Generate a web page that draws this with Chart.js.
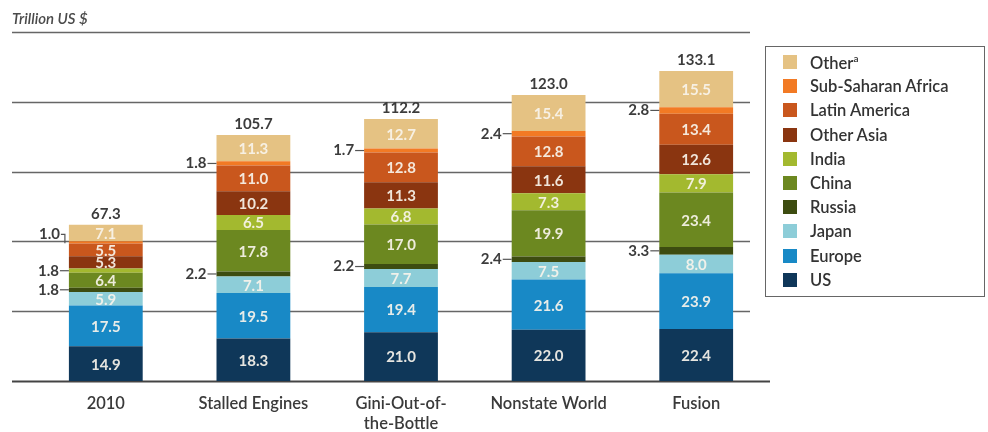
<!DOCTYPE html>
<html>
<head>
<meta charset="utf-8">
<script src="https://cdn.jsdelivr.net/npm/chart.js@4.4.1/dist/chart.umd.min.js"></script>
<style>
  body { margin: 0; background: #fff; }
  #caja { position: relative; width: 988px; height: 432px; }
  #leyenda {
    position: absolute; left: 765px; top: 46px; width: 220px; height: 251px;
    border: 1.5px solid #666; box-sizing: border-box;
    font-family: Lato, "Open Sans", sans-serif; font-size: 16.5px; font-weight: 600; color: #333;
    padding-top: 3px;
  }
  .item { display: flex; align-items: center; height: 24.2px; }
  .cuadro { width: 14px; height: 14px; margin-left: 17px; margin-right: 13px; }
  sup { font-size: 10px; }
</style>
</head>
<body>
<div id="caja">
  <canvas id="grafico" width="988" height="432"></canvas>
  <div id="leyenda"></div>
</div>
<script>
const escenarios = ['2010', 'Stalled Engines', ['Gini-Out-of-', 'the-Bottle'], 'Nonstate World', 'Fusion'];
const regiones = ['US', 'Europe', 'Japan', 'Russia', 'China', 'India', 'Other Asia', 'Latin America', 'Sub-Saharan Africa', 'Other'];
const colores = ['#0f3759', '#1889c6', '#8dcdd8', '#3d4c10', '#6c8820', '#a3b92f', '#8a3510', '#c9571d', '#f27a24', '#e5c283'];

const us = [14.9, 18.3, 21.0, 22.0, 22.4];
const europe = [17.5, 19.5, 19.4, 21.6, 23.9];
const japan = [5.9, 7.1, 7.7, 7.5, 8.0];
const russia = [1.8, 2.2, 2.2, 2.4, 3.3];
const china = [6.4, 17.8, 17.0, 19.9, 23.4];
const india = [1.8, 6.5, 6.8, 7.3, 7.9];
const otraAsia = [5.3, 10.2, 11.3, 11.6, 12.6];
const latinoamerica = [5.5, 11.0, 12.8, 12.8, 13.4];
const africa = [1.0, 1.8, 1.7, 2.4, 2.8];
const otros = [7.1, 11.3, 12.7, 15.4, 15.5];
const totales = [67.3, 105.7, 112.2, 123.0, 133.1];
const marcasY = [0, 30, 60, 90, 120, 150];

const series = [us, europe, japan, russia, china, india, otraAsia, latinoamerica, africa, otros];
const fuente = 'Lato, "Open Sans", sans-serif';

// lineas horizontales que salen del area de la grafica
const lineasGuia = {
  id: 'lineasGuia',
  beforeDatasetsDraw(chart) {
    const ctx = chart.ctx;
    const y = chart.scales.y;
    ctx.save();
    marcasY.forEach(v => {
      const py = Math.round(y.getPixelForValue(v)) + 0.5;
      ctx.strokeStyle = v === 0 ? '#444' : '#666';
      ctx.lineWidth = v === 0 ? 2 : 1.5;
      ctx.beginPath();
      ctx.moveTo(12, py);
      ctx.lineTo(v === 0 ? 770 : 750, py);
      ctx.stroke();
    });
    ctx.font = 'italic 600 15px ' + fuente;
    ctx.fillStyle = '#4a4a4a';
    ctx.textBaseline = 'alphabetic';
    ctx.fillText('Trillion US $', 12, 24);
    ctx.restore();
  }
};

const etiquetas = {
  id: 'etiquetas',
  afterDatasetsDraw(chart) {
    const ctx = chart.ctx;
    ctx.save();
    ctx.textBaseline = 'middle';
    chart.data.datasets.forEach((ds, i) => {
      const meta = chart.getDatasetMeta(i);
      meta.data.forEach((bar, j) => {
        const v = ds.data[j];
        const centro = (bar.y + bar.base) / 2;
        const afuera = regiones[i] === 'Russia' || regiones[i] === 'Sub-Saharan Africa' || v < 2;
        if (!afuera) {
          ctx.font = 'bold 15px ' + fuente;
          ctx.fillStyle = 'rgba(248,244,236,0.92)';
          ctx.textAlign = 'center';
          ctx.fillText(v.toFixed(1), bar.x, centro + 1);
        } else {
          const izq = bar.x - bar.width / 2;
          ctx.font = 'bold 15px ' + fuente;
          ctx.fillStyle = '#3c3c3c';
          ctx.textAlign = 'right';
          ctx.strokeStyle = '#555';
          ctx.lineWidth = 1.2;
          if (j === 0 && regiones[i] === 'Sub-Saharan Africa') {
            const ty = centro - 8;
            ctx.fillText(v.toFixed(1), izq - 9, ty);
            ctx.beginPath();
            ctx.moveTo(izq - 8, ty);
            ctx.lineTo(izq - 4, ty);
            ctx.lineTo(izq - 4, centro + 1);
            ctx.stroke();
          } else {
            ctx.fillText(v.toFixed(1), izq - 10, centro);
            ctx.beginPath();
            ctx.moveTo(izq - 9, centro);
            ctx.lineTo(izq, centro);
            ctx.stroke();
          }
        }
      });
    });
    // totales arriba de cada barra
    const ultima = chart.getDatasetMeta(chart.data.datasets.length - 1);
    ctx.font = 'bold 15px ' + fuente;
    ctx.fillStyle = '#3c3c3c';
    ctx.textAlign = 'center';
    ctx.textBaseline = 'alphabetic';
    ultima.data.forEach((bar, j) => {
      ctx.fillText(totales[j].toFixed(1), bar.x, bar.y - 6);
    });
    ctx.restore();
  }
};

const grafico = new Chart(document.getElementById('grafico').getContext('2d'), {
  type: 'bar',
  data: {
    labels: escenarios,
    datasets: series.map((d, i) => ({
      label: regiones[i],
      data: d,
      backgroundColor: colores[i],
      borderWidth: 0,
      categoryPercentage: 1,
      barPercentage: 0.5
    }))
  },
  options: {
    responsive: false,
    animation: false,
    layout: { padding: { top: 32, left: 32, right: 218, bottom: 0 } },
    plugins: {
      legend: { display: false },
      tooltip: { enabled: false }
    },
    scales: {
      x: {
        stacked: true,
        border: { display: false },
        grid: { display: false, drawTicks: false },
        ticks: {
          color: '#3a3a3a',
          padding: 13,
          font: { family: fuente, size: 16.5, weight: '600', lineHeight: 1.2 }
        },
        afterFit(scale) { scale.height = 51; }
      },
      y: {
        stacked: true,
        display: false,
        min: 0,
        max: 150
      }
    }
  },
  plugins: [lineasGuia, etiquetas]
});

// leyenda en html, de arriba (Other) hacia abajo (US)
const leyenda = document.getElementById('leyenda');
for (let i = regiones.length - 1; i >= 0; i--) {
  const fila = document.createElement('div');
  fila.className = 'item';
  const texto = regiones[i] === 'Other' ? 'Other<sup>a</sup>' : regiones[i];
  fila.innerHTML = `<span class="cuadro" style="background:${colores[i]}"></span><span>${texto}</span>`;
  leyenda.appendChild(fila);
}
</script>
</body>
</html>
